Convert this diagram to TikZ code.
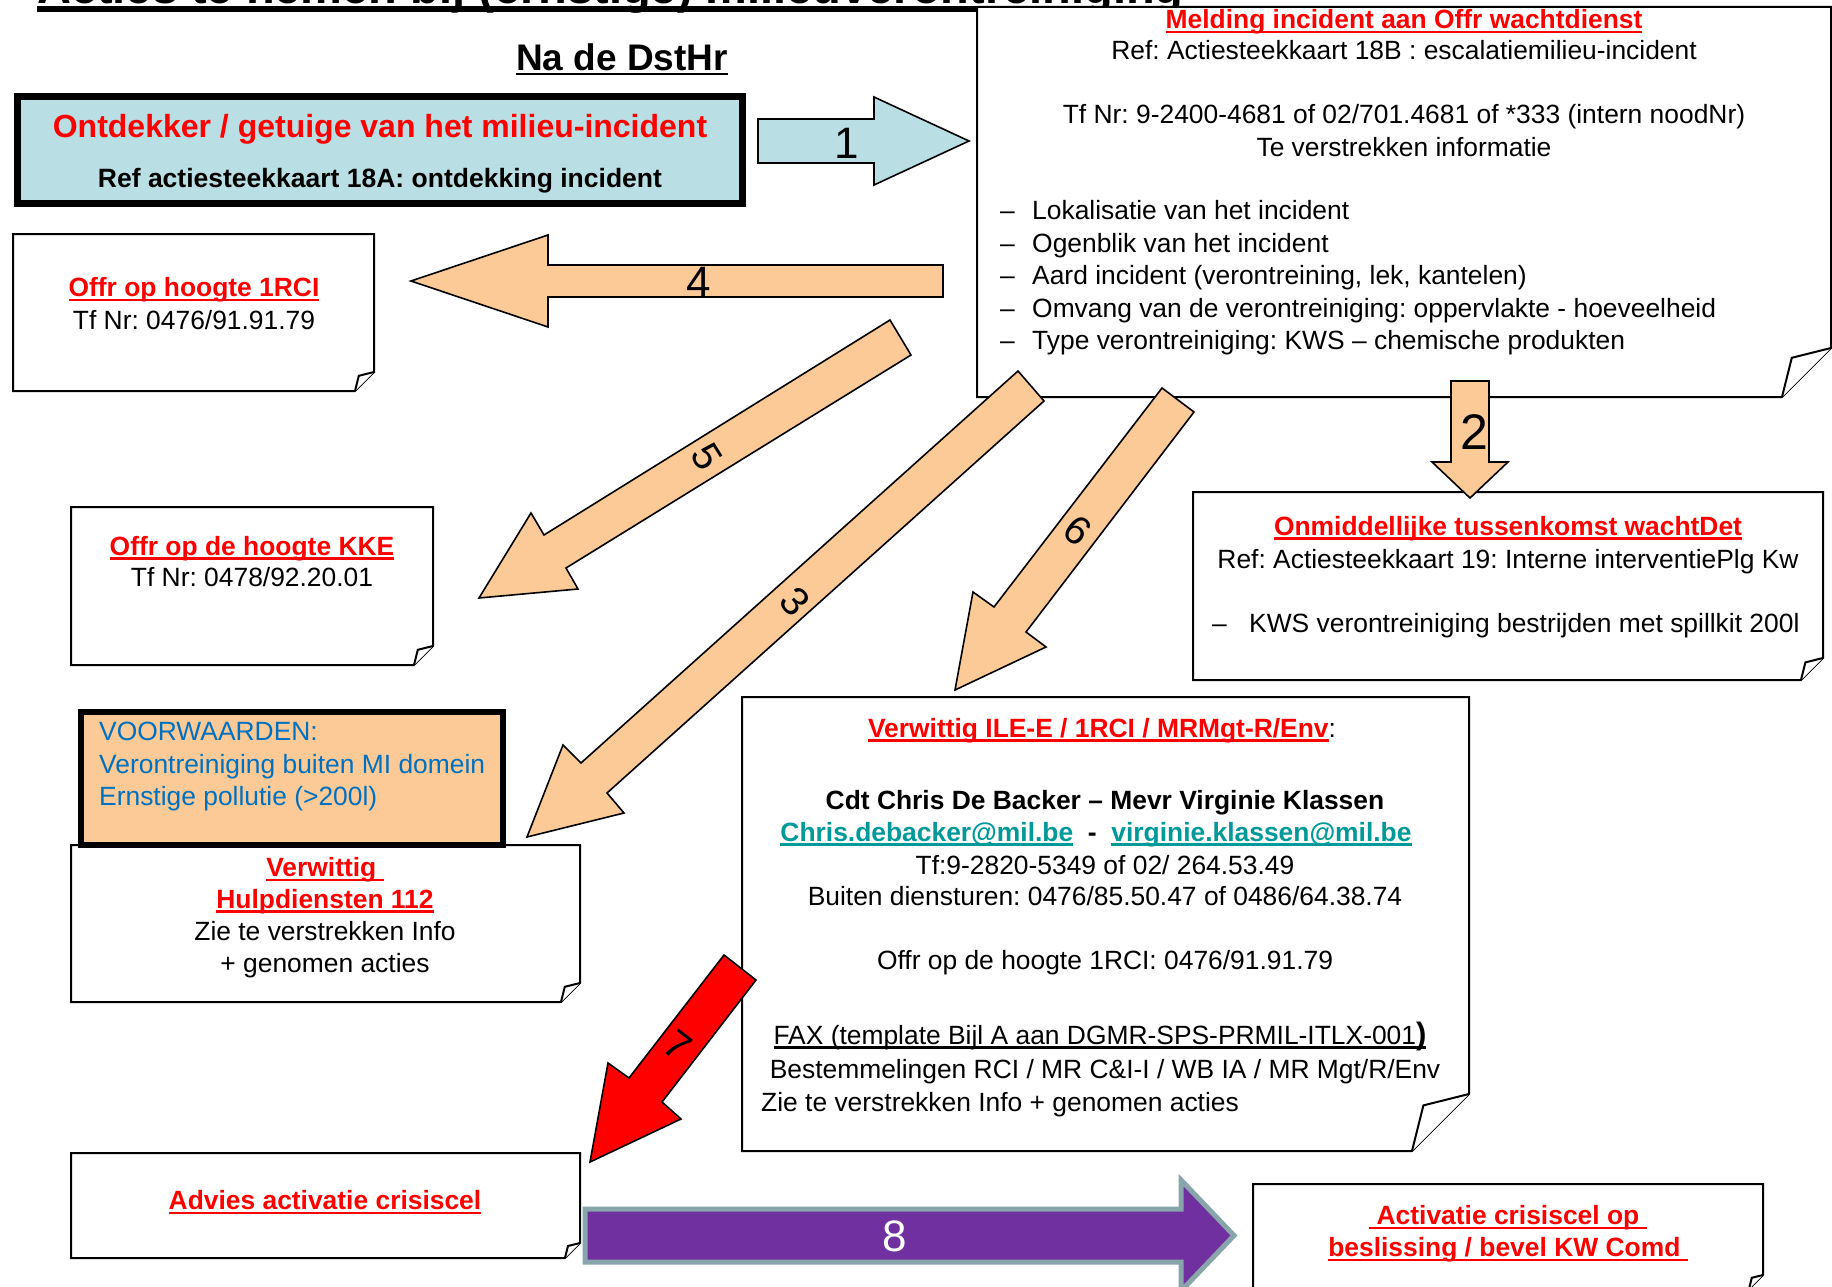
\documentclass[tikz,border=0pt]{standalone}
\usepackage{fontspec}
\setmainfont{Liberation Sans}
\usetikzlibrary{fit}
\frenchspacing
\definecolor{peach}{RGB}{252,202,150}
\definecolor{lblue}{RGB}{185,223,228}
\definecolor{vblue}{RGB}{0,112,192}
\definecolor{mailteal}{RGB}{0,153,153}
\definecolor{purp}{RGB}{112,48,160}
\definecolor{purpedge}{RGB}{135,165,170}
\newcommand\ulx[1]{\setbox0\hbox{#1}\rlap{\rule[-4.5pt]{\wd0}{2.4pt}}\box0}
\newcommand\fs[1]{\fontsize{#1}{#1}\selectfont}
\tikzset{
  boxln/.style={draw=black, line width=2pt, fill=white, line join=miter},
  barrow/.style={draw=black, line width=1.6pt, fill=peach, line join=miter},
  txt/.style={inner sep=0pt, anchor=base, font=\fs{26.4}},
  txtl/.style={txt, anchor=base west},
  hdr/.style={txt, font=\bfseries\fs{26.4}, text=red},
  lbl/.style={inner sep=0pt, anchor=center, font=\fs{44}},
  rlbl/.style={inner sep=0pt, anchor=center, font=\fs{40}},
}
\newcommand\notebox[6]{%
  \draw[boxln] (#2,#3) -- (#4,#3) -- (#4,{#5-#6}) -- ({#4-#6},#5) -- (#2,#5) -- cycle;
  \draw[boxln] ({#4-#6},#5) -- ({#4-0.8*#6},{#5-0.8*#6}) -- (#4,{#5-#6});
  \node[fit={(#2,#3) (#4,#5)}, inner sep=0pt] (#1) {};
}
\begin{document}
\begin{tikzpicture}[x=1pt,y=-1pt]
\clip (0,0) rectangle (1832,1287);
\fill[white] (0,0) rectangle (1832,1287);

% title (cut off at the top, as in the reference)
\node[anchor=base west, inner sep=0pt, font=\bfseries\fs{47}] (title) at (37,4) {Acties te nemen bij (ernstige) milieuverontreiniging};
\draw[line width=6pt] (37,9) -- (1190,9);
\node[txt, font=\bfseries\fs{37}] (nade) at (622,71) {\ulx{Na de DstHr}};

% Ontdekker box
\draw[line width=7pt, fill=lblue] (17.5,96.5) rectangle (742.5,203.5);
\node[fit={(14,93) (746,207)}, inner sep=0pt] (ontd) {};
\node[txt, font=\bfseries\fs{32}, text=red] (ontdT) at (380,138) {Ontdekker / getuige van het milieu-incident};
\node[txt, font=\bfseries\fs{26.5}] (ontdR) at (380,187) {Ref actiesteekkaart 18A: ontdekking incident};

% Melding box
\notebox{meld}{977}{7}{1831}{397}{49}
\node[hdr] (meldH) at (1404,29) {\ulx{Melding incident aan Offr wachtdienst}};
\node[txt] (meldR) at (1404,59.5) {Ref: Actiesteekkaart 18B : escalatiemilieu-incident};
\node[txt] (meldTf) at (1404,124) {Tf Nr: 9-2400-4681 of 02/701.4681 of *333 (intern noodNr)};
\node[txt] (meldTe) at (1404,156.5) {Te verstrekken informatie};
\foreach \i/\yy/\t in {1/219.5/Lokalisatie van het incident,
                       2/252/Ogenblik van het incident,
                       3/284.5/{Aard incident (verontreining, lek, kantelen)},
                       4/317/Omvang van de verontreiniging: oppervlakte - hoeveelheid,
                       5/349.5/Type verontreiniging: KWS – chemische produkten}{
  \node[txtl] (md\i) at (1000,\yy) {–};
  \node[txtl] (mb\i) at (1032,\yy) {\t};
}

% Offr op hoogte 1RCI
\notebox{rci}{13}{234}{374}{391}{19}
\node[hdr] (rciH) at (194,296.5) {\ulx{Offr op hoogte 1RCI}};
\node[txt] (rciT) at (194,329.5) {Tf Nr: 0476/91.91.79};

% Offr op de hoogte KKE
\notebox{kke}{71}{507}{433}{665}{19}
\node[hdr] (kkeH) at (252,555) {\ulx{Offr op de hoogte KKE}};
\node[txt] (kkeT) at (252,586.5) {Tf Nr: 0478/92.20.01};

% Verwittig Hulpdiensten
\notebox{hulp}{71}{845}{580}{1002}{19}
\node[hdr] (hulpH1) at (325,876.5) {\ulx{Verwittig\ }};
\node[hdr] (hulpH2) at (325,908) {\ulx{Hulpdiensten 112}};
\node[txt] (hulpT1) at (325,940) {Zie te verstrekken Info};
\node[txt] (hulpT2) at (325,972) {+ genomen acties};

% Voorwaarden
\draw[line width=6pt, fill=peach] (81,712) rectangle (503,845);
\node[fit={(78,709) (506,848)}, inner sep=0pt] (voorw) {};
\node[txtl, text=vblue] (vw1) at (99,740.5) {VOORWAARDEN:};
\node[txtl, text=vblue] (vw2) at (99,773.5) {Verontreiniging buiten MI domein};
\node[txtl, text=vblue] (vw3) at (99,805.5) {Ernstige pollutie (>200l)};

% Onmiddellijke tussenkomst
\notebox{onm}{1193}{492}{1823}{680}{22}
\node[hdr] (onmH) at (1508,535) {\ulx{Onmiddellijke tussenkomst wachtDet}};
\node[txt] (onmR) at (1508,568) {Ref: Actiesteekkaart 19: Interne interventiePlg Kw};
\node[txtl] (onmD) at (1212,632) {–};
\node[txtl] (onmB) at (1249,632) {KWS verontreiniging bestrijden met spillkit 200l};

% Verwittig ILE-E
\notebox{ile}{742}{697}{1469}{1151}{57}
\node[txt] (ileH) at (1102,737) {{\bfseries\color{red}\ulx{Verwittig ILE-E / 1RCI / MRMgt-R/Env}}:};
\node[txt, font=\bfseries\fs{26.4}] (ileC) at (1105,809) {Cdt Chris De Backer – Mevr Virginie Klassen};
\node[txt, font=\bfseries\fs{26.4}] (ileM) at (1096,841) {{\color{mailteal}\ulx{Chris.debacker@mil.be}}\ \ -\ \ {\color{mailteal}\ulx{virginie.klassen@mil.be}}};
\node[txt] (ileTf) at (1105,874) {Tf:9-2820-5349 of 02/ 264.53.49};
\node[txt] (ileB) at (1105,905) {Buiten diensturen: 0476/85.50.47 of 0486/64.38.74};
\node[txt] (ileO) at (1105,969) {Offr op de hoogte 1RCI: 0476/91.91.79};
\node[txt] (ileF) at (1100,1044) {\ulx{FAX (template Bijl A aan DGMR-SPS-PRMIL-ITLX-001{\bfseries\fs{31})}}};
\node[txt] (ileBe) at (1105,1078) {Bestemmelingen RCI / MR C\&I-I / WB IA / MR Mgt/R/Env};
\node[txtl] (ileZ) at (761,1111) {Zie te verstrekken Info + genomen acties};

% Advies
\notebox{adv}{71}{1153}{580}{1258}{15}
\node[hdr] (advH) at (325,1209.5) {\ulx{Advies activatie crisiscel}};

% Activatie
\notebox{act}{1253}{1184}{1763}{1289}{14}
\node[hdr] (actH1) at (1508,1224.5) {\ulx{\ Activatie crisiscel op\ }};
\node[hdr] (actH2) at (1508,1256.5) {\ulx{beslissing / bevel KW Comd\ }};

% block arrows
\draw[barrow, fill=lblue] (758,119) -- (874,119) -- (874,97) -- (969,141) -- (874,185) -- (874,163) -- (758,163) -- cycle;
\draw[barrow] (943,265) -- (548,265) -- (548,235) -- (411,281) -- (548,327) -- (548,297) -- (943,297) -- cycle;
\draw[barrow] (1451,381) -- (1489,381) -- (1489,462) -- (1508,462) -- (1470,498) -- (1432,462) -- (1451,462) -- cycle;
\draw[barrow] (890,320) -- (544,535) -- (531,513) -- (479,598) -- (578,589) -- (566,568) -- (911,355) -- cycle;
\draw[barrow] (1018,371) -- (581,763) -- (563,745) -- (527,837) -- (624,813) -- (607,793) -- (1044,401) -- cycle;
\draw[barrow] (1162,388) -- (994,607) -- (973,592) -- (955,690) -- (1046,647) -- (1026,632) -- (1194,412) -- cycle;
\draw[barrow, fill=red] (724,955) -- (629,1078) -- (608,1063) -- (590,1162) -- (681,1119) -- (662,1102) -- (756,980) -- cycle;
\draw[line width=5pt, draw=purpedge, fill=purp, line join=miter] (585,1209) -- (1181,1209) -- (1181,1180) -- (1234,1235.5) -- (1181,1291) -- (1181,1262) -- (585,1262) -- cycle;

% arrow labels
\node[lbl] (l1) at (847,143) {1};
\node[lbl] (l4) at (699,282) {4};
\node[lbl, font=\fs{50}] (l2) at (1474,432) {2};
\node[lbl, text=white] (l8) at (895,1236) {8};
\node[rlbl, rotate=-58] (l5) at (707,457) {5};
\node[rlbl, rotate=-48] (l3) at (795,602) {3};
\node[rlbl, rotate=-38] (l6) at (1078,530) {6};
\node[rlbl, rotate=-38] (l7) at (678,1045) {7};
\end{tikzpicture}
\end{document}
